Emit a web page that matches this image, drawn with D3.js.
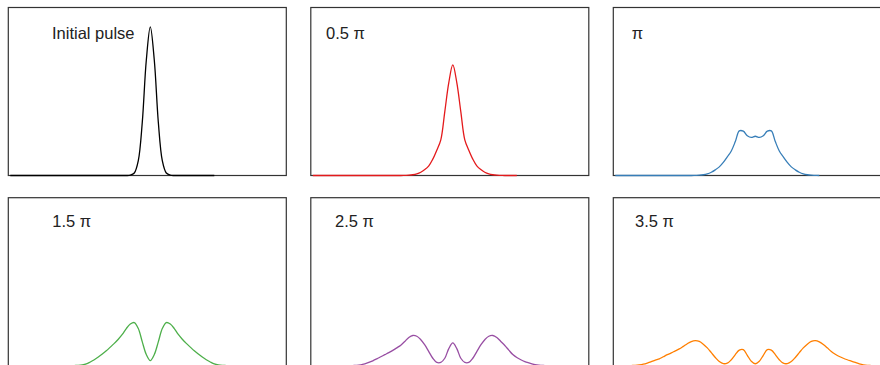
<!DOCTYPE html>
<html>
<head>
<meta charset="utf-8">
<script src="https://cdn.jsdelivr.net/npm/d3@7"></script>
<style>
  html, body { margin: 0; padding: 0; background: #fff; }
  svg { display: block; font-family: "Liberation Sans", Arial, Helvetica, sans-serif; }
</style>
</head>
<body>
<svg width="880" height="365"></svg>
<script>
// pulse intensity (normalised to initial peak) sampled on a time grid, step 2
const tGrid = d3.range(-70, 69, 2);

const labels = ['Initial pulse', '0.5 π', 'π', '1.5 π', '2.5 π', '3.5 π'];
const colors = ['#000000', '#e41a1c', '#377eb8', '#4daf4a', '#984ea3', '#ff7f00'];

// top row: t = -70 .. 32
const initial = [
  0,0,0,0,0,0,0,0,0,0, 0,0,0,0,0,0,0,0,0,0, 0,0,0,0,0,0,0,0,0,0,
  0.002,0.017,0.10,0.36,0.775,1.00,0.775,0.36,0.10,0.017,0.002,
  0,0,0,0,0,0,0,0,0,0,0
];
const halfPi = [
  0,0,0,0,0,0,0,0,0,0, 0,0,0,0,0,0,0,0,0,0, 0,0,0,
  0.001,0.002,0.005,0.011,0.022,0.04,0.065,0.11,0.17,0.24,0.43,0.625,
  0.744,
  0.625,0.43,0.24,0.17,0.11,0.065,0.04,0.022,0.011,0.005,0.002,0.001,
  0,0,0,0
];
const onePi = [
  0,0,0,0,0,0,0,0,0,0, 0,0,0,0,0,0,0,0,0,0,
  0.001,0.002,0.005,0.011,0.022,0.038,0.058,0.088,0.125,0.165,0.228,0.300,0.298,0.268,0.256,
  0.264,
  0.256,0.268,0.298,0.300,0.228,0.165,0.125,0.088,0.058,0.038,0.022,0.011,0.005,0.002,0.001,
  0
];
// bottom row: t = -70 .. 68
const oneHalfPi = [
  0,0,0,0,0,0,0,0,0,0, 0,0,0,0,0,
  0,0.001,0.002,0.005,0.012,0.025,0.04,0.058,0.078,0.10,0.125,0.15,0.178,0.21,0.25,0.28,0.29,0.25,0.16,0.075,
  0.034,
  0.075,0.16,0.25,0.29,0.28,0.25,0.21,0.178,0.15,0.125,0.10,0.078,0.058,0.04,0.025,0.012,0.005,0.002,0.001,0,
  0,0,0,0,0,0,0,0,0,0, 0,0,0,0
];
const twoHalfPi = [
  0,0,0,0,0,0,0,0,0,0,
  0.001,0.002,0.006,0.013,0.022,0.033,0.046,0.06,0.074,0.088,0.103,0.12,0.138,0.163,0.19,0.203,0.198,0.175,0.14,0.095,0.05,0.022,0.022,0.05,0.115,
  0.153,
  0.115,0.05,0.022,0.022,0.05,0.095,0.14,0.175,0.198,0.203,0.19,0.163,0.136,0.105,0.075,0.055,0.04,0.028,0.019,0.011,0.005,0.002,0.001,
  0,0,0,0,0,0,0,0,0,0,0
];
const threeHalfPi = [
  0,0,0,0,
  0.001,0.002,0.005,0.01,0.018,0.028,0.038,0.046,0.06,0.074,0.086,0.1,0.113,0.13,0.148,0.162,0.168,0.163,0.145,0.12,0.088,0.055,0.028,0.014,0.017,0.04,0.075,0.105,0.108,0.07,0.03,
  0.013,
  0.03,0.07,0.108,0.105,0.075,0.04,0.017,0.014,0.028,0.055,0.088,0.12,0.145,0.163,0.168,0.16,0.143,0.12,0.095,0.077,0.062,0.05,0.04,0.031,0.022,0.013,0.006,0.002,0.001,
  0,0,0,0,0
];
const series = [initial, halfPi, onePi, oneHalfPi, twoHalfPi, threeHalfPi];

const svg = d3.select('svg');
const panelW = 278;
const panelH = 168;
const pad = { left: 8.3, top: 7.5 };
const colStep = 302.5;
const rowStep = 190.2;
const fontSize = 16.5;

// label anchor inside each panel
const labelPos = [
  { x: 43.7, y: 31.8 }, { x: 15.2, y: 31.8 }, { x: 18.4, y: 31.2 },
  { x: 44, y: 29.8 }, { x: 24.2, y: 29.8 }, { x: 21.7, y: 29.8 }
];

const x = d3.scaleLinear().domain([-71, 68]).range([0, panelW]);
const y = d3.scaleLinear().domain([0, 1.13]).range([panelH, 0]);

const line = d3.line()
  .x(d => x(d[0]))
  .y(d => y(d[1]))
  .curve(d3.curveCatmullRom.alpha(0.5));

series.forEach((vals, i) => {
  const col = i % 3;
  const row = Math.floor(i / 3);
  const g = svg.append('g')
    .attr('transform', `translate(${pad.left + col * colStep},${pad.top + row * rowStep})`);

  g.append('rect')
    .attr('width', panelW)
    .attr('height', panelH)
    .attr('fill', 'none')
    .attr('stroke', '#333')
    .attr('stroke-width', 1.2);

  g.append('path')
    .datum(vals.map((v, k) => [tGrid[k], v]))
    .attr('d', line)
    .attr('fill', 'none')
    .attr('stroke', colors[i])
    .attr('stroke-width', 1.3)
    .attr('stroke-linejoin', 'round');

  g.append('text')
    .attr('x', labelPos[i].x)
    .attr('y', labelPos[i].y)
    .attr('font-size', fontSize)
    .attr('fill', '#222')
    .text(labels[i]);
});
</script>
</body>
</html>
